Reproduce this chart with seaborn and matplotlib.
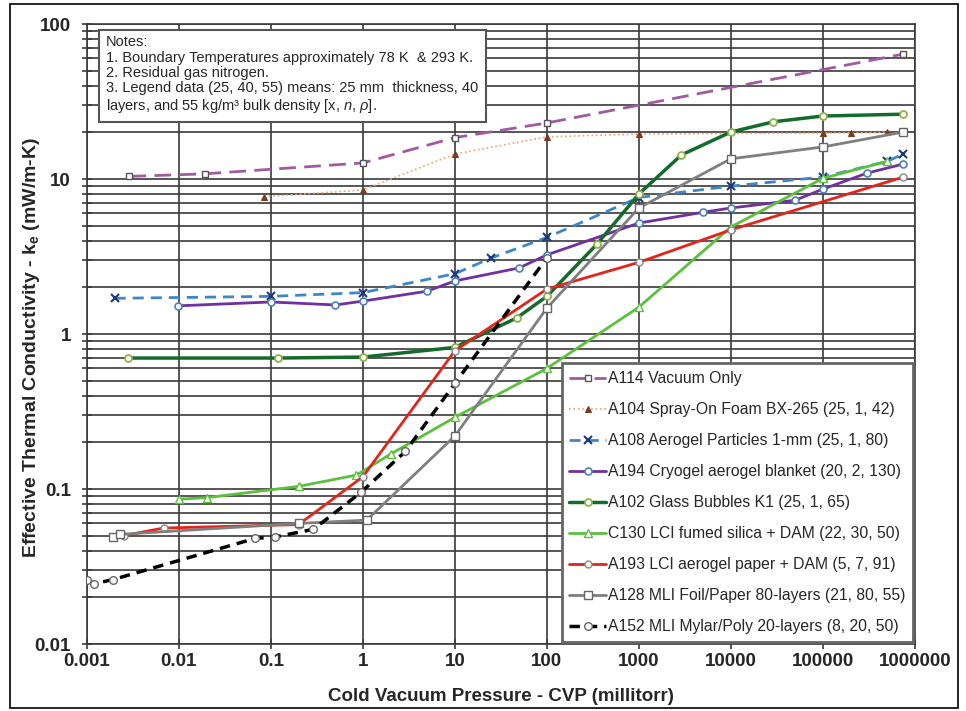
import matplotlib
matplotlib.use('Agg')
import matplotlib.pyplot as plt
from matplotlib.ticker import LogLocator, NullLocator, NullFormatter
from matplotlib.patches import Rectangle
import seaborn as sns

# values (x in millitorr, y in mW/m-K)
a114_x = [0.0029, 0.019, 1, 10, 100, 750000]
a114_y = [10.4, 10.8, 12.7, 18.5, 23, 64]

a104_x = [0.085, 1, 10, 100, 1000, 100000, 200000, 500000]
a104_y = [7.7, 8.5, 14.5, 18.7, 19.5, 19.8, 19.9, 20.0]

a108_x = [0.002, 0.1, 1, 10, 25, 100, 1000, 10000, 100000, 500000, 750000]
a108_y = [1.7, 1.75, 1.85, 2.45, 3.1, 4.2, 7.6, 9.0, 10.3, 13, 14.5]

a194_x = [0.0098, 0.1, 0.5, 1, 5, 10, 50, 100, 1000, 5000, 10000, 50000, 100000, 300000, 750000]
a194_y = [1.52, 1.61, 1.54, 1.63, 1.89, 2.2, 2.67, 3.24, 5.2, 6.1, 6.5, 7.3, 8.6, 10.9, 12.5]

a102_x = [0.0028, 0.12, 1, 10, 47, 100, 350, 1000, 2900, 10000, 29000, 100000, 750000]
a102_y = [0.70, 0.70, 0.71, 0.82, 1.27, 1.75, 3.8, 8.0, 14.3, 20.1, 23.4, 25.5, 26.2]

c130_x = [0.01, 0.02, 0.2, 0.85, 2, 10, 100, 1000, 10000, 100000, 500000]
c130_y = [0.086, 0.088, 0.104, 0.123, 0.168, 0.29, 0.60, 1.49, 4.9, 10.1, 13]

a193_x = [0.0025, 0.0068, 0.2, 1, 10, 100, 1000, 10000, 750000]
a193_y = [0.05, 0.056, 0.059, 0.12, 0.78, 1.95, 2.9, 4.7, 10.3]

a128_x = [0.0019, 0.0023, 0.2, 1.1, 10, 100, 1000, 10000, 100000, 750000]
a128_y = [0.049, 0.051, 0.06, 0.063, 0.22, 1.47, 6.5, 13.5, 16.1, 20.1]

a152_x = [0.001, 0.0012, 0.0019, 0.067, 0.11, 0.29, 0.95, 2.9, 10, 100]
a152_y = [0.026, 0.0245, 0.026, 0.048, 0.049, 0.055, 0.095, 0.175, 0.48, 3.1]

labels = [
    'A114 Vacuum Only',
    'A104 Spray-On Foam BX-265 (25, 1, 42)',
    'A108 Aerogel Particles 1-mm (25, 1, 80)',
    'A194 Cryogel aerogel blanket (20, 2, 130)',
    'A102 Glass Bubbles K1 (25, 1, 65)',
    'C130 LCI fumed silica + DAM (22, 30, 50)',
    'A193 LCI aerogel paper + DAM (5, 7, 91)',
    'A128 MLI Foil/Paper 80-layers (21, 80, 55)',
    'A152 MLI Mylar/Poly 20-layers (8, 20, 50)',
]

x_ticks = [0.001, 0.01, 0.1, 1, 10, 100, 1000, 10000, 100000, 1000000]
x_tick_labels = ['0.001', '0.01', '0.1', '1', '10', '100', '1000', '10000', '100000', '1000000']
y_ticks = [0.01, 0.1, 1, 10, 100]
y_tick_labels = ['0.01', '0.1', '1', '10', '100']

notes = ('Notes:\n'
         '1. Boundary Temperatures approximately 78 K  & 293 K.\n'
         '2. Residual gas nitrogen.\n'
         '3. Legend data (25, 40, 55) means: 25 mm  thickness, 40\n'
         'layers, and 55 kg/m\u00b3 bulk density [x, $n$, $\\rho$].')

sns.set_style('ticks')
plt.rcParams['font.family'] = ['Liberation Sans', 'DejaVu Sans']
plt.rcParams['mathtext.fontset'] = 'custom'
plt.rcParams['mathtext.rm'] = 'Liberation Sans'
plt.rcParams['mathtext.it'] = 'Liberation Sans:italic'
plt.rcParams['mathtext.bf'] = 'Liberation Sans:bold'

fig = plt.figure(figsize=(9.66, 7.11), dpi=100)
ax = fig.add_axes([0.090, 0.0942, 0.857, 0.872])

series = [
    (a114_x, a114_y, dict(color='#a05aa0', lw=2, linestyle=(0, (6, 3)), marker='s',
                          mfc='white', mec='#555555', ms=5, mew=1)),
    (a104_x, a104_y, dict(color='#f0a070', lw=1.2, linestyle=':', marker='^',
                          mfc='#7a3b22', mec='#7a3b22', ms=5)),
    (a108_x, a108_y, dict(color='#3f86c8', lw=2, linestyle=(0, (4, 2.5)), marker='x',
                          mec='#1c3a78', ms=6, mew=1.5)),
    (a194_x, a194_y, dict(color='#7030a0', lw=2, linestyle='-', marker='o',
                          mfc='white', mec='#4f81bd', ms=5, mew=1.2)),
    (a102_x, a102_y, dict(color='#146b2c', lw=2.5, linestyle='-', marker='o',
                          mfc='white', mec='#8fb34a', ms=5, mew=1.3)),
    (c130_x, c130_y, dict(color='#5cbf3e', lw=2, linestyle='-', marker='^',
                          mfc='white', mec='#5cbf3e', ms=5.5, mew=1)),
    (a193_x, a193_y, dict(color='#e3241b', lw=2, linestyle='-', marker='o',
                          mfc='white', mec='#888888', ms=5, mew=1)),
    (a128_x, a128_y, dict(color='#7f7f7f', lw=2, linestyle='-', marker='s',
                          mfc='white', mec='#666666', ms=5.5, mew=1)),
    (a152_x, a152_y, dict(color='black', lw=2.5, linestyle=(0, (3, 2)), marker='o',
                          mfc='white', mec='#666666', ms=5.5, mew=1)),
]

for (xs, ys, kw), lab in zip(series, labels):
    sns.lineplot(x=xs, y=ys, ax=ax, label=lab, sort=False, estimator=None, zorder=3, **kw)

ax.set_xscale('log')
ax.set_yscale('log')
ax.set_xlim(1e-3, 1e6)
ax.set_ylim(0.01, 100)

ax.set_xticks(x_ticks, labels=x_tick_labels, fontweight='bold', fontsize=13.5)
ax.set_yticks(y_ticks, labels=y_tick_labels, fontweight='bold', fontsize=13.5)
ax.xaxis.set_minor_locator(NullLocator())
ax.yaxis.set_minor_locator(LogLocator(base=10, subs=range(2, 10)))
ax.yaxis.set_minor_formatter(NullFormatter())

ax.grid(True, which='major', color='#3a3a3a', lw=1.2)
ax.grid(True, which='minor', axis='y', color='#3a3a3a', lw=1.2)
ax.tick_params(which='both', direction='inout', length=7, width=1.2, color='#3a3a3a')
ax.tick_params(axis='y', pad=8)
ax.tick_params(axis='x', pad=3)
for sp in ax.spines.values():
    sp.set_color('#3a3a3a')
    sp.set_linewidth(1.2)

ax.set_xlabel('Cold Vacuum Pressure - CVP (millitorr)', fontweight='bold', fontsize=13.5)
ax.set_ylabel('Effective Thermal Conductivity - k$_\\mathbf{e}$ (mW/m-K)',
              fontweight='bold', fontsize=14)
ax.xaxis.set_label_coords(0.5, -0.071)
ax.yaxis.set_label_coords(-0.054, 0.479)

leg = ax.legend(loc='lower right', bbox_to_anchor=(0.998, 0.003), fancybox=False,
                framealpha=1, edgecolor='#666666', fontsize=11.3, handlelength=2.3,
                handletextpad=0.15, labelspacing=1.02, borderpad=0.5, borderaxespad=0)
leg.get_frame().set_linewidth(2)
leg.set_zorder(10)

ax.text(0.023, 0.982, notes, transform=ax.transAxes, va='top', ha='left',
        fontsize=10.5, linespacing=1.12, zorder=10,
        bbox=dict(boxstyle='square,pad=0.5', fc='white', ec='#555555', lw=1.5))

fig.patches.append(Rectangle((0.0104, 0.0042), 0.9813, 0.9902, transform=fig.transFigure,
                             fill=False, ec='black', lw=1.2))

plt.savefig('out.png', dpi=100)
